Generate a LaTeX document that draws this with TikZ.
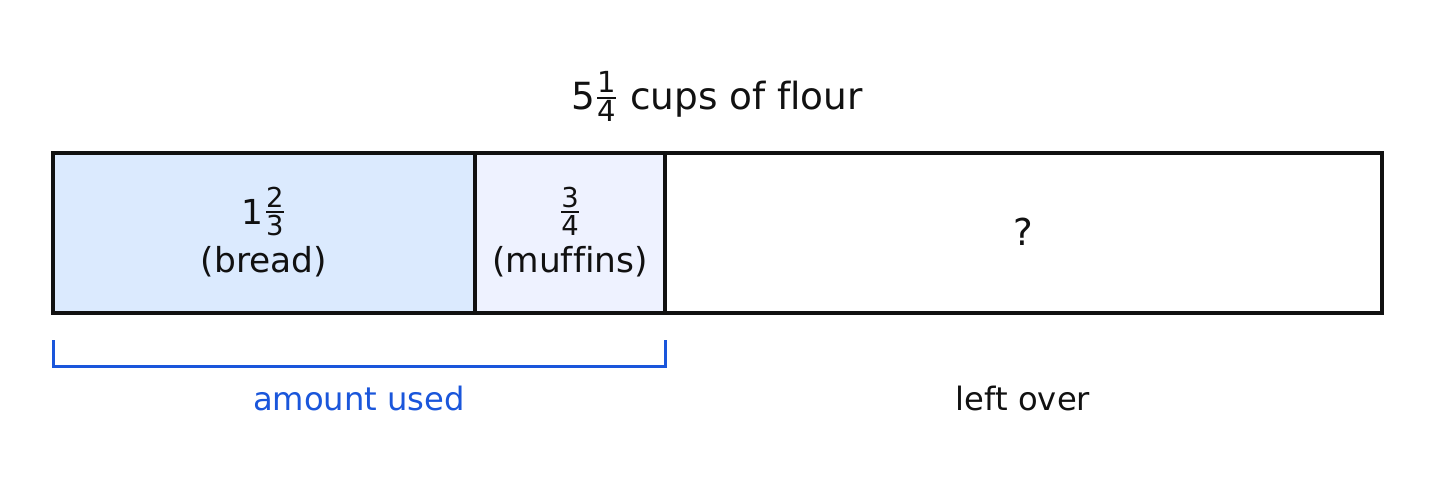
\documentclass[tikz,border=0pt]{standalone}
\usepackage{amsmath}
\usepackage{fontspec}
\setmainfont[Ligatures=NoCommon]{DejaVu Sans}
\definecolor{ink}{HTML}{111111}
\definecolor{breadfill}{HTML}{DBEAFE}
\definecolor{muffinfill}{HTML}{EEF2FF}
\definecolor{accent}{HTML}{1A56DB}
\newcommand\fracsize{13.7}
\newcommand\mixfrac[3][]{#1\raisebox{0.1em}{$\genfrac{}{}{1pt}{}{\mbox{\fontsize{\fracsize}{\fracsize}\selectfont #2}}{\mbox{\fontsize{\fracsize}{\fracsize}\selectfont #3}}$}}
\tikzset{
  px/.style={x=0.5pt,y=-0.5pt},
  part/.style={draw=ink,line width=2pt},
  lbl/.style={text=ink,align=center,inner sep=0pt,font=\fontsize{17.2}{24}\selectfont},
  brace/.style={draw=accent,line width=1.5pt},
  note/.style={inner sep=0pt,font=\fontsize{16.1}{18}\selectfont},
}
\begin{document}
\begin{tikzpicture}[px]
\useasboundingbox (0,0) rectangle (1434,502);
\fill[white] (0,0) rectangle (1434,502);
% boxes
\path[part,fill=breadfill] (53,153) rectangle (475,313);
\path[part,fill=muffinfill] (475,153) rectangle (665,313);
\path[part,fill=white] (665,153) rectangle (1382,313);
\node[lbl] (bread) at (264,232) {\mixfrac[1]{2}{3}\\(bread)};
\node[lbl] (muffins) at (570,232) {\mixfrac{3}{4}\\(muffins)};
\node[lbl,font=\fontsize{18.5}{22}\selectfont] (rest) at (1023,232) {?};
% title
\node[text=ink,inner sep=0pt,anchor=base,font=\fontsize{18.7}{22}\selectfont\renewcommand\fracsize{14.5}] (title) at (717,110) {\mixfrac[5]{1}{4} cups of flour};
% bracket
\coordinate (bl) at (53,340);
\coordinate (br) at (665,340);
\draw[brace] (bl) |- ([yshift=-13pt]br) -- (br);
\node[note,text=accent] (used) at (359,398) {amount used};
\node[note,text=ink] (left) at (1023,398) {left over};
\end{tikzpicture}
\end{document}
